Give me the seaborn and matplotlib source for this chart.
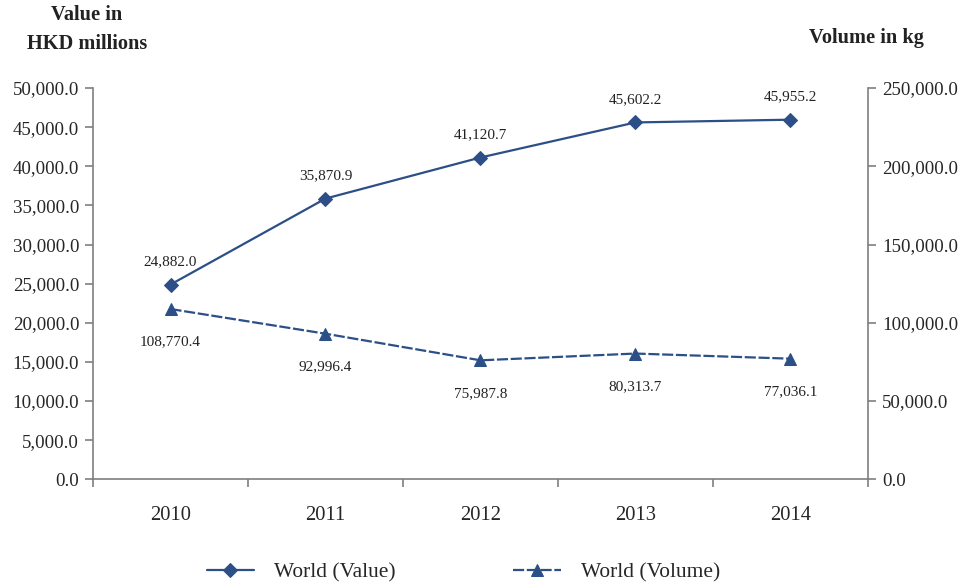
import matplotlib
matplotlib.use("Agg")
import matplotlib.pyplot as plt
import seaborn as sns
import pandas as pd
from matplotlib.ticker import FuncFormatter, FixedLocator

years = ["2010", "2011", "2012", "2013", "2014"]
value_hkd_m = [24882.0, 35870.9, 41120.7, 45602.2, 45955.2]
volume_kg = [108770.4, 92996.4, 75987.8, 80313.7, 77036.1]

sns.set_theme(style="white")
plt.rcParams['font.family'] = ['Liberation Serif', 'DejaVu Serif']

color = "#2B4F86"
spine_c = "#7f7f7f"

df = pd.DataFrame({"x": range(len(years)), "year": years,
                   "value": value_hkd_m, "volume": volume_kg})

fig = plt.figure(figsize=(9.59, 5.83), dpi=100)
ax = fig.add_axes([0.097, 0.178, 0.808, 0.671])
ax2 = ax.twinx()

sns.lineplot(data=df, x="x", y="value", ax=ax, color=color, marker="D",
             markersize=7, markeredgecolor=color, linewidth=1.6, label="World (Value)", legend=False)
sns.lineplot(data=df, x="x", y="volume", ax=ax2, color=color, marker="^",
             markersize=8, markeredgecolor=color, linewidth=1.6, linestyle=(0, (5, 1.2)),
             label="World (Volume)", legend=False)

ax.set_xlim(-0.5, len(years) - 0.5)
ax.set_ylim(0, 50000)
ax2.set_ylim(0, 250000)
ax.set_yticks(range(0, 50001, 5000))
ax2.set_yticks(range(0, 250001, 50000))
fmt = FuncFormatter(lambda v, p: f"{v:,.1f}")
ax.yaxis.set_major_formatter(fmt)
ax2.yaxis.set_major_formatter(fmt)

ax.xaxis.set_major_locator(FixedLocator([i - 0.5 for i in range(len(years) + 1)]))
ax.set_xticklabels([])
ax.set_xticks(list(range(len(years))), minor=True)
ax.set_xticklabels(years, minor=True)
ax.tick_params(axis="x", which="major", direction="out", length=6, color=spine_c, width=1.2, bottom=True)
ax.tick_params(axis="x", which="minor", length=0, pad=19, labelsize=14.8)
ax.tick_params(axis="y", direction="out", length=6, color=spine_c, width=1.2, left=True, labelsize=13.6, pad=4)
ax2.tick_params(axis="y", direction="out", length=6, color=spine_c, width=1.2, right=True, labelsize=13.6, pad=4)
ax.set_xlabel("")
ax.set_ylabel("")
ax2.set_ylabel("")

for a in (ax, ax2):
    a.spines["top"].set_visible(False)
    for s in ("left", "right", "bottom"):
        a.spines[s].set_color(spine_c)
        a.spines[s].set_linewidth(1.2)
ax.spines["right"].set_visible(False)
ax2.spines["left"].set_visible(False)
ax2.spines["bottom"].set_visible(False)

for i, v in enumerate(value_hkd_m):
    ax.annotate(f"{v:,.1f}", (i, v), xytext=(0, 12), textcoords="offset points",
                ha="center", va="bottom", fontsize=11, color="#222222")
for i, v in enumerate(volume_kg):
    ax2.annotate(f"{v:,.1f}", (i, v), xytext=(0, -19), textcoords="offset points",
                 ha="center", va="top", fontsize=11, color="#222222")

fig.text(0.0905, 0.949, "Value in\nHKD millions", ha="center", va="center",
         fontsize=14.7, fontweight="bold", linespacing=1.6, color="#222222")
fig.text(0.903, 0.935, "Volume in kg", ha="center", va="center",
         fontsize=14.7, fontweight="bold", color="#222222")

h1, l1 = ax.get_legend_handles_labels()
h2, l2 = ax2.get_legend_handles_labels()
fig.legend(h1 + h2, l1 + l2, loc="center", bbox_to_anchor=(0.4833, 0.018), ncol=2,
           frameon=False, fontsize=15.4, columnspacing=5.5, handlelength=2.2, handletextpad=0.95)

fig.savefig("out.png", dpi=100)
